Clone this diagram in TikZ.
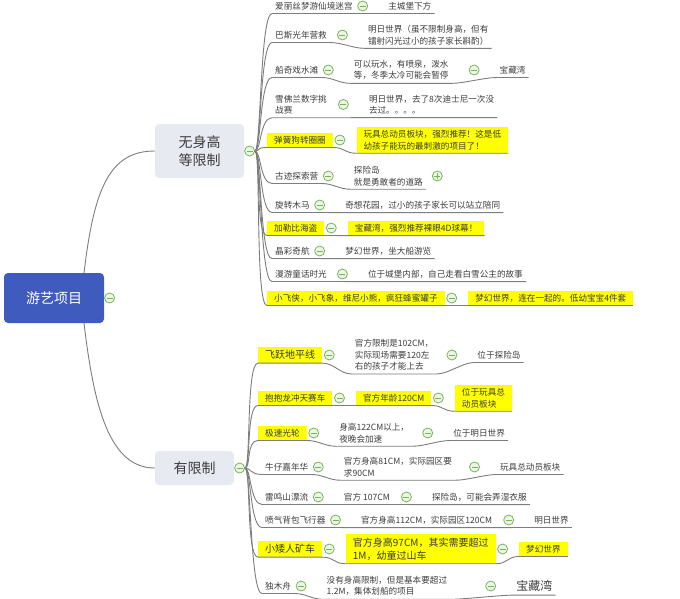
\documentclass[tikz,border=0pt]{standalone}
\usepackage{fontspec}
\setmainfont{Noto Sans CJK SC}
\usepackage{tikz}
\usetikzlibrary{positioning}
\definecolor{rootblue}{RGB}{63,91,190}
\definecolor{branchgray}{RGB}{232,234,242}
\definecolor{hlyellow}{RGB}{255,255,0}
\definecolor{foldgreen}{RGB}{120,181,90}
\definecolor{foldfill}{RGB}{236,246,228}
\definecolor{linegray}{RGB}{125,125,125}
\definecolor{textgray}{RGB}{60,60,60}

\begin{document}
\begin{tikzpicture}[x=1pt,y=-1pt,every node/.style={text=textgray},
  rootbox/.style={fill=rootblue,text=white,rounded corners=4pt,minimum width=100pt,minimum height=50pt,font=\fontsize{14}{18}\selectfont},
  branch/.style={fill=branchgray,rounded corners=4pt,align=center,font=\fontsize{14}{18}\selectfont},
  item/.style={anchor=west,align=left,inner xsep=3pt,inner ysep=3.3pt,font=\fontsize{8.6}{11.5}\selectfont},
  hl/.style={item,fill=hlyellow,inner xsep=7pt},
  big/.style={font=\fontsize{10}{13}\selectfont},
  fold/.style={circle,draw=foldgreen,fill=foldfill,line width=0.8pt,minimum size=10pt,inner sep=0pt,
    path picture={\draw[foldgreen,line width=1pt] ([xshift=-3pt]path picture bounding box.center) -- ([xshift=3pt]path picture bounding box.center);}},
  unfold/.style={fold,path picture={\draw[foldgreen,line width=1pt] ([xshift=-3pt]path picture bounding box.center) -- ([xshift=3pt]path picture bounding box.center) ([yshift=-3pt]path picture bounding box.center) -- ([yshift=3pt]path picture bounding box.center);}},
  link/.style={draw=linegray,line width=0.9pt}]
\useasboundingbox (0,0) rectangle (680,598);

% centre and the two branches
\node[rootbox] (root) at (54,298) {游艺项目};
\node[fold,right=0pt of root] (root-fold) {};
\node[branch,minimum width=89pt,minimum height=54pt] (nolimit) at (199.5,151) {无身高\\等限制};
\node[fold,right=0pt of nolimit] (nolimit-fold) {};
\node[branch,minimum width=79pt,minimum height=34pt] (limit) at (194.5,468) {有限制};
\node[fold,right=0pt of limit] (limit-fold) {};

% no height limit
\node[item] (free1) at (272,6) {爱丽丝梦游仙境迷宫};
\node[fold,right=1.5pt of free1] (free1-fold) {};
\node[item,right=17pt of free1-fold] (freeinfo1) {主城堡下方};
\node[item] (free2) at (272,35) {巴斯光年营救};
\node[fold,right=7pt of free2] (free2-fold) {};
\node[item,right=17pt of free2-fold] (freeinfo2) {明日世界（虽不限制身高，但有\\镭射闪光过小的孩子家长斟酌）};
\node[item] (free3) at (272,70) {船奇戏水滩};
\node[fold,right=1.5pt of free3] (free3-fold) {};
\node[item,right=17pt of free3-fold] (freeinfo3) {可以玩水，有喷泉，泼水\\等，冬季太冷可能会暂停};
\node[fold,right=17pt of freeinfo3] (freeinfo3-fold) {};
\node[item,right=17pt of freeinfo3-fold] (freearea3) {宝藏湾};
\node[item] (free4) at (272,104.5) {雪佛兰数字挑\\战赛};
\node[fold,right=8pt of free4] (free4-fold) {};
\node[item,right=17pt of free4-fold] (freeinfo4) {明日世界，去了8次迪士尼一次没\\去过。。。。};
\node[hl] (free5) at (267,140) {弹簧狗转圈圈};
\node[fold,right=1.5pt of free5] (free5-fold) {};
\node[hl,right=11pt of free5-fold] (freeinfo5) {玩具总动员板块，强烈推荐！这是低\\幼孩子能玩的最刺激的项目了！};
\node[item] (free6) at (272,176) {古迹探索营};
\node[fold,right=1.5pt of free6] (free6-fold) {};
\node[item,right=17pt of free6-fold] (freeinfo6) {探险岛\\就是勇敢者的道路};
\node[unfold,right=6pt of freeinfo6] (freeinfo6-fold) {};
\node[item] (free7) at (272,205) {旋转木马};
\node[fold,right=1.5pt of free7] (free7-fold) {};
\node[item,right=17pt of free7-fold] (freeinfo7) {奇想花园，过小的孩子家长可以站立陪同};
\node[hl] (free8) at (267,228) {加勒比海盗};
\node[fold,right=1.5pt of free8] (free8-fold) {};
\node[hl,right=11pt of free8-fold] (freeinfo8) {宝藏湾，强烈推荐裸眼4D球幕！};
\node[item] (free9) at (272,251) {晶彩奇航};
\node[fold,right=1.5pt of free9] (free9-fold) {};
\node[item,right=17pt of free9-fold] (freeinfo9) {梦幻世界，坐大船游览};
\node[item] (free10) at (272,274) {漫游童话时光};
\node[fold,right=7pt of free10] (free10-fold) {};
\node[item,right=17pt of free10-fold] (freeinfo10) {位于城堡内部，自己走看白雪公主的故事};
\node[hl] (free11) at (267,298) {小飞侠，小飞象，维尼小熊，疯狂蜂蜜罐子};
\node[fold,right=1.5pt of free11] (free11-fold) {};
\node[hl,right=11pt of free11-fold] (freeinfo11) {梦幻世界，连在一起的。低幼宝宝4件套};

% with height limit
\node[hl,big] (lim1) at (258,355) {飞跃地平线};
\node[fold,right=1.5pt of lim1] (lim1-fold) {};
\node[item,right=17pt of lim1-fold] (liminfo1) {官方限制是102CM，\\实际现场需要120左\\右的孩子才能上去};
\node[fold,right=10pt of liminfo1] (liminfo1-fold) {};
\node[item,right=17pt of liminfo1-fold] (limarea1) {位于探险岛};
\node[hl] (lim2) at (258,398) {抱抱龙冲天赛车};
\node[fold,right=1.5pt of lim2] (lim2-fold) {};
\node[hl,right=11pt of lim2-fold] (liminfo2) {官方年龄120CM};
\node[fold,right=1.5pt of liminfo2] (liminfo2-fold) {};
\node[hl,right=11pt of liminfo2-fold] (limarea2) {位于玩具总\\动员板块};
\node[hl] (lim3) at (258,433) {极速光轮};
\node[fold,right=1.5pt of lim3] (lim3-fold) {};
\node[item,right=17pt of lim3-fold] (liminfo3) {身高122CM以上，\\夜晚会加速};
\node[fold,right=10pt of liminfo3] (liminfo3-fold) {};
\node[item,right=17pt of liminfo3-fold] (limarea3) {位于明日世界};
\node[item] (lim4) at (262,467) {牛仔嘉年华};
\node[fold,right=1.5pt of lim4] (lim4-fold) {};
\node[item,right=17pt of lim4-fold] (liminfo4) {官方身高81CM，实际园区要\\求90CM};
\node[fold,right=14pt of liminfo4] (liminfo4-fold) {};
\node[item,right=17pt of liminfo4-fold] (limarea4) {玩具总动员板块};
\node[item] (lim5) at (262,497) {雷鸣山漂流};
\node[fold,right=1.5pt of lim5] (lim5-fold) {};
\node[item,right=17pt of lim5-fold] (liminfo5) {官方 107CM};
\node[fold,right=8pt of liminfo5] (liminfo5-fold) {};
\node[item,right=17pt of liminfo5-fold] (limarea5) {探险岛，可能会弄湿衣服};
\node[item] (lim6) at (262,520) {喷气背包飞行器};
\node[fold,right=1.5pt of lim6] (lim6-fold) {};
\node[item,right=17pt of lim6-fold] (liminfo6) {官方身高112CM，实际园区120CM};
\node[fold,right=8pt of liminfo6] (liminfo6-fold) {};
\node[item,right=17pt of liminfo6-fold] (limarea6) {明日世界};
\node[hl,big] (lim7) at (258,549) {小矮人矿车};
\node[fold,right=1.5pt of lim7] (lim7-fold) {};
\node[hl,big,right=11pt of lim7-fold] (liminfo7) {官方身高97CM，其实需要超过\\1M，幼童过山车};
\node[fold,right=1.5pt of liminfo7] (liminfo7-fold) {};
\node[hl,right=11pt of liminfo7-fold] (limarea7) {梦幻世界};
\node[item] (lim8) at (262,586) {独木舟};
\node[fold,right=1.5pt of lim8] (lim8-fold) {};
\node[item,right=17pt of lim8-fold] (liminfo8) {没有身高限制，但是基本要超过\\1.2M，集体划船的项目};
\node[fold,right=35pt of liminfo8] (liminfo8-fold) {};
\node[item,font=\fontsize{12}{14}\selectfont,right=17pt of liminfo8-fold] (limarea8) {宝藏湾};

% connectors
\draw[link] (root.40) .. controls +(10,-85) and +(-45,0) .. (nolimit.west);
\draw[link] (root.-40) .. controls +(10,85) and +(-45,0) .. (limit.west);
\foreach \i in {1,...,11}
  \draw[link] (nolimit-fold.east) .. controls +(6,0) and +(-12,0) .. (free\i.south west);
\foreach \i in {1,...,8}
  \draw[link] (limit-fold.east) .. controls +(6,0) and +(-12,0) .. (lim\i.south west);
\foreach \i in {1,2,4,5,6,7,8,9,10,11}
  \draw[link] (free\i.south west) -- (free\i.south east) .. controls +(12,0) and +(-12,0) .. (freeinfo\i.south west) -- (freeinfo\i.south east);
\draw[link] (free3.south west) -- (free3.south east) .. controls +(12,0) and +(-12,0) .. (freeinfo3.south west) -- (freeinfo3.south east)
  .. controls +(12,0) and +(-12,0) .. (freearea3.south west) -- (freearea3.south east);
\foreach \i in {1,...,8}
  \draw[link] (lim\i.south west) -- (lim\i.south east) .. controls +(12,0) and +(-12,0) .. (liminfo\i.south west) -- (liminfo\i.south east)
    .. controls +(12,0) and +(-12,0) .. (limarea\i.south west) -- (limarea\i.south east);
\end{tikzpicture}
\end{document}
